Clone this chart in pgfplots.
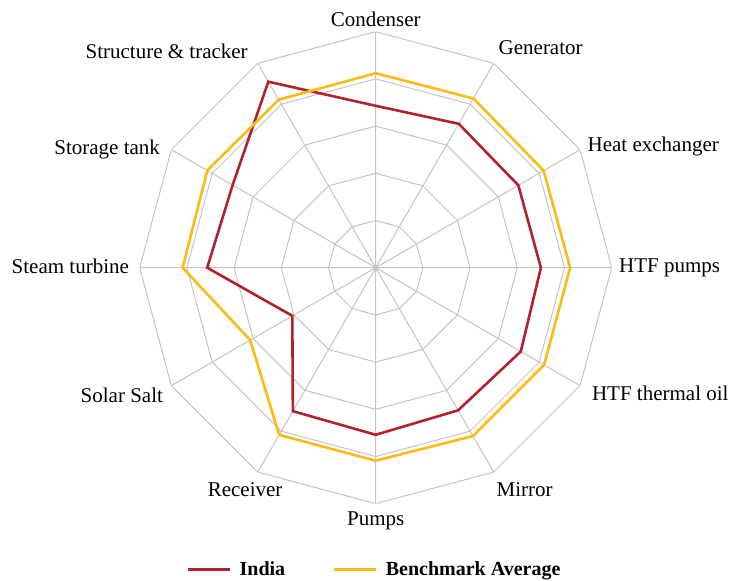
\documentclass[border=0pt]{standalone}
\usepackage{pgfplots}
\pgfplotsset{compat=1.18}
\usepgfplotslibrary{polar}
\usepackage{fontspec}
\setmainfont{Liberation Serif}

\definecolor{indiared}{RGB}{178,34,44}
\definecolor{benchgold}{RGB}{252,186,18}
\definecolor{webgray}{RGB}{196,196,196}

% anchor and offset of each spoke label, by tick number
\newcommand\setlbl[1]{%
  \ifcase#1
    \def\lblanc{base west}\def\lblx{3.5pt}\def\lbly{-2.3pt}%   HTF pumps
  \or\def\lblanc{base west}\def\lblx{3.6pt}\def\lbly{-0.7pt}%  Heat exchanger
  \or\def\lblanc{base west}\def\lblx{2.3pt}\def\lbly{4.3pt}%   Generator
  \or\def\lblanc{base}\def\lblx{0pt}\def\lbly{2.8pt}%          Condenser
  \or\def\lblanc{base east}\def\lblx{-4.8pt}\def\lbly{2.3pt}%  Structure
  \or\def\lblanc{base east}\def\lblx{-5.5pt}\def\lbly{-2.3pt}% Storage tank
  \or\def\lblanc{base east}\def\lblx{-5.2pt}\def\lbly{-2.8pt}% Steam turbine
  \or\def\lblanc{base east}\def\lblx{-4pt}\def\lbly{-8.2pt}%   Solar Salt
  \or\def\lblanc{base}\def\lblx{-6.3pt}\def\lbly{-12.2pt}%     Receiver
  \or\def\lblanc{base}\def\lblx{0pt}\def\lbly{-10.8pt}%        Pumps
  \or\def\lblanc{base west}\def\lblx{1.3pt}\def\lbly{-12.2pt}% Mirror
  \or\def\lblanc{base west}\def\lblx{5.8pt}\def\lbly{-7.6pt}%  HTF thermal oil
  \fi}

\begin{document}
\begin{tikzpicture}
  \begin{polaraxis}[
      width=236pt, height=236pt, scale only axis,
      ymin=0, ymax=5,
      xtick={0,30,...,330},
      xticklabels={HTF pumps,Heat exchanger,Generator,Condenser,Structure \& tracker,Storage tank,Steam turbine,Solar Salt,Receiver,Pumps,Mirror,HTF thermal oil},
      ytick={1,2,3,4,5}, yticklabels={},
      xmajorgrids=true, ymajorgrids=false,
      major grid style={webgray, line width=0.5pt},
      axis line style={draw=none},
      major tick length=0pt,
      xticklabel style={/utils/exec={\setlbl{\ticknum}}, inner sep=0pt,
        anchor=\lblanc, xshift=\lblx, yshift=\lbly},
      tick label style={font=\fontsize{10.5}{13}\selectfont},
      legend style={at={(0.5,-0.14)}, anchor=center, legend columns=2, draw=none,
        font=\fontsize{10}{12}\selectfont\bfseries,
        /tikz/every odd column/.append style={column sep=2pt},
        /tikz/every even column/.append style={column sep=22pt}},
      legend image code/.code={\draw[#1] (0pt,0pt) -- (21pt,0pt);},
    ]
    % polygon web
    \addplot[webgray, line width=0.5pt, forget plot] coordinates {(0,1) (30,1) (60,1) (90,1) (120,1) (150,1) (180,1) (210,1) (240,1) (270,1) (300,1) (330,1) (360,1)};
    \addplot[webgray, line width=0.5pt, forget plot] coordinates {(0,2) (30,2) (60,2) (90,2) (120,2) (150,2) (180,2) (210,2) (240,2) (270,2) (300,2) (330,2) (360,2)};
    \addplot[webgray, line width=0.5pt, forget plot] coordinates {(0,3) (30,3) (60,3) (90,3) (120,3) (150,3) (180,3) (210,3) (240,3) (270,3) (300,3) (330,3) (360,3)};
    \addplot[webgray, line width=0.5pt, forget plot] coordinates {(0,4) (30,4) (60,4) (90,4) (120,4) (150,4) (180,4) (210,4) (240,4) (270,4) (300,4) (330,4) (360,4)};
    \addplot[webgray, line width=0.5pt, forget plot] coordinates {(0,5) (30,5) (60,5) (90,5) (120,5) (150,5) (180,5) (210,5) (240,5) (270,5) (300,5) (330,5) (360,5)};

    \addplot[indiared, line width=1.3pt] coordinates {
      (90,3.43) (60,3.52) (30,3.49) (0,3.50) (-30,3.55) (-60,3.49)
      (-90,3.54) (-120,3.51) (-150,2.04) (-180,3.57) (-210,3.50) (-240,4.55)
      (-270,3.43)
    };
    \addlegendentry{India}
    \addplot[benchgold, line width=1.3pt] coordinates {
      (90,4.12) (60,4.14) (30,4.11) (0,4.12) (-30,4.12) (-60,4.12)
      (-90,4.09) (-120,4.09) (-150,3.07) (-180,4.09) (-210,4.12) (-240,4.11)
      (-270,4.12)
    };
    \addlegendentry{Benchmark Average}
  \end{polaraxis}
  % page frame: same margins round the chart as the reference
  \pgfresetboundingbox
  \path ([shift={(-187.85pt,-156.65pt)}]current axis.center)
    rectangle ([shift={(178.65pt,133.85pt)}]current axis.center);
\end{tikzpicture}
\end{document}
